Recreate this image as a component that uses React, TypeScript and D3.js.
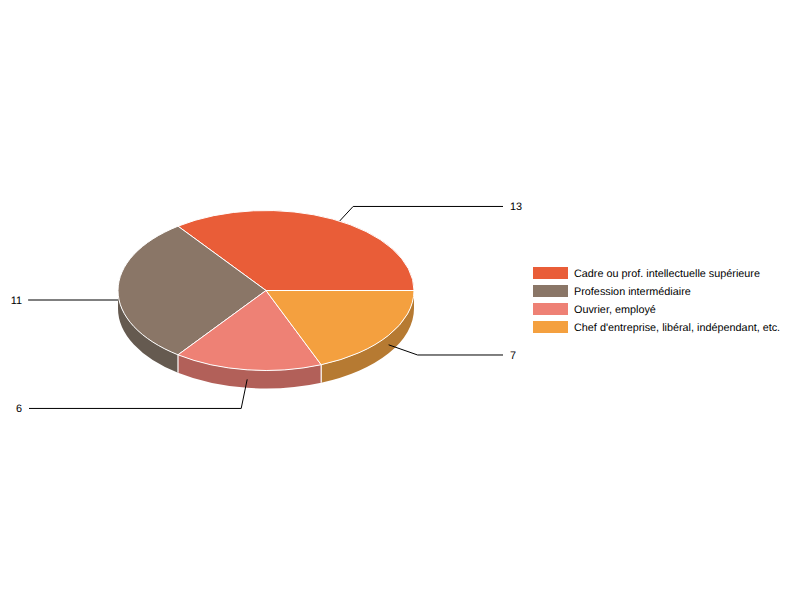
import * as d3 from "d3";

const categories = [
  "Cadre ou prof. intellectuelle supérieure",
  "Profession intermédiaire",
  "Ouvrier, employé",
  "Chef d'entreprise, libéral, indépendant, etc.",
];
const values = [13, 11, 6, 7];
const topColors = ["#e95d38", "#8a7667", "#ee8175", "#f4a03f"];
const sideColors = ["#a34227", "#655a50", "#b26059", "#b67a32"];

const width = 800;
const height = 600;
const cx = 266;
const cy = 290.5;
const rx = 148;
const ry = 80;
const depth = 18;

// elbow of each leader line, relative to where it leaves the pie
const elbows = [
  [20.5, -22.1],
  [-89.5, 0],
  [-6, 29.1],
  [29, 10.2],
];

// angle 0 is at 3 o'clock, going counter-clockwise on screen
const pie = d3
  .pie<number>()
  .sort(null)
  .startAngle(0)
  .endAngle(Math.PI * 2);

const px = (a: number) => cx + rx * Math.cos(a);
const py = (a: number) => cy - ry * Math.sin(a);

function topPath(a0: number, a1: number) {
  const large = a1 - a0 > Math.PI ? 1 : 0;
  return `M${cx},${cy}L${px(a0)},${py(a0)}A${rx},${ry} 0 ${large} 0 ${px(a1)},${py(a1)}Z`;
}

function sidePath(a0: number, a1: number) {
  // only the part of the wall facing the viewer
  const s = Math.max(a0, Math.PI);
  const e = Math.min(a1, Math.PI * 2);
  if (e <= s) return null;
  return (
    `M${px(s)},${py(s)}A${rx},${ry} 0 0 0 ${px(e)},${py(e)}` +
    `L${px(e)},${py(e) + depth}A${rx},${ry} 0 0 1 ${px(s)},${py(s) + depth}Z`
  );
}

export default function App() {
  const arcs = pie(values);
  const legendY = d3
    .scalePoint<string>()
    .domain(categories)
    .range([273, 327]);

  return (
    <svg
      width={width}
      height={height}
      textRendering="geometricPrecision"
      style={{ position: "absolute", left: 0, top: 0, fontFamily: "'Liberation Sans', Arial, sans-serif" }}
    >
      <rect width={width} height={height} fill="#fff" />

      {/* Side walls first, then leaders, then the top hides the leader ends */}
      {arcs.map((d, i) => {
        const side = sidePath(d.startAngle, d.endAngle);
        return side ? <path key={i} d={side} fill={sideColors[i]} /> : null;
      })}

      {/* White seams between the walls */}
      {arcs.slice(1).map((d, i) => {
        if (d.startAngle <= Math.PI || d.startAngle >= Math.PI * 2) return null;
        const a = d.startAngle;
        return (
          <line
            key={i}
            x1={px(a)}
            x2={px(a)}
            y1={py(a)}
            y2={py(a) + depth}
            stroke="#fff"
            strokeWidth={1.2}
          />
        );
      })}

      {arcs.map((d, i) => {
        const mid = (d.startAngle + d.endAngle) / 2;
        const x0 = px(mid);
        const y0 = py(mid) + depth / 2 + 0.5;
        const [dx, dy] = elbows[i];
        const x1 = x0 + dx;
        const y1 = y0 + dy;
        const right = x1 > cx;
        const x2 = right ? 503 : 29;
        return (
          <g key={i}>
            <polyline
              points={`${x0},${y0} ${x1},${y1} ${x2},${y1}`}
              fill="none"
              stroke="#000"
              strokeWidth={1}
            />
            <text
              x={right ? 510 : 22}
              y={y1 + 3.6}
              fontSize={10.83}
              textAnchor={right ? "start" : "end"}
            >
              {d.data}
            </text>
          </g>
        );
      })}

      {arcs.map((d, i) => (
        <path
          key={i}
          d={topPath(d.startAngle, d.endAngle)}
          fill={topColors[i]}
          stroke="#fff"
          strokeWidth={1}
          strokeLinejoin="round"
        />
      ))}

      {categories.map((c, i) => (
        <g key={c}>
          <rect
            x={533}
            y={legendY(c)! - 6}
            width={35}
            height={12}
            fill={topColors[i]}
          />
          <text x={574} y={legendY(c)! + 3.6} fontSize={10.83} fill="#000">
            {c}
          </text>
        </g>
      ))}
    </svg>
  );
}
